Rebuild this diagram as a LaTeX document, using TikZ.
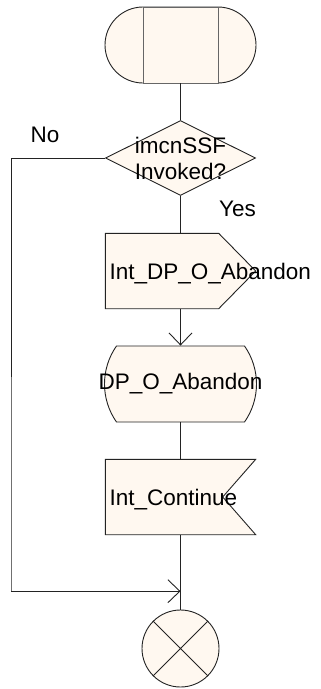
\documentclass[tikz,border=0pt]{standalone}
\usepackage{fontspec}
\setmainfont{Liberation Sans}
\usetikzlibrary{positioning, shapes.geometric, shapes.misc, arrows.meta}

\definecolor{symfill}{RGB}{255,248,240}
\definecolor{symline}{RGB}{35,35,35}

\begin{document}
\begin{tikzpicture}[
    node distance=113pt,
    on grid,
    font=\fontsize{22.5}{26}\selectfont,
    every node/.style={inner sep=0pt},
    slot/.style={minimum width=150pt, minimum height=75pt},
    sym/.style={draw=symline, fill=symfill, line width=0.9pt},
    flow/.style={draw=symline, line width=0.9pt},
    arrow/.style={flow, -{Straight Barb[length=12pt, width=23pt]}}
]
   \useasboundingbox (0,0) rectangle (321pt,-689pt);

   % Start symbol
   \node[sym, rounded rectangle, minimum width=151pt, minimum height=76pt] (start) at (180.5pt,-45pt) {};
   \node[sym, draw=black!60, minimum width=75pt, minimum height=76pt] at (start) {};

   % Decision
   \node[sym, diamond, minimum width=150pt, minimum height=75pt, below=of start,
         label={[align=center]center:imcnSSF\\Invoked?}] (invoked) {};

   % Output of internal signal
   \node[slot, below=of invoked] (dpout) {};
   \filldraw[sym] (dpout.north west) -- ([xshift=-37pt]dpout.north east) -- (dpout.east)
      -- ([xshift=-37pt]dpout.south east) -- (dpout.south west) -- cycle;
   \node[anchor=base west] at ([xshift=4pt, yshift=-8pt]dpout.west) {Int\_DP\_O\_Abandon};

   % Detection point procedure
   \node[sym, rounded rectangle, rounded rectangle arc length=70, minimum width=152pt,
         minimum height=76pt, below=of dpout, label=center:DP\_O\_Abandon] (dpproc) {};

   % Input of internal signal
   \node[slot, below=of dpproc] (dpcont) {};
   \filldraw[sym] (dpcont.north west) -- (dpcont.north east) -- ([xshift=-33pt]dpcont.east)
      -- (dpcont.south east) -- (dpcont.south west) -- cycle;
   \node[anchor=base west] at ([xshift=4pt, yshift=-8pt]dpcont.west) {Int\_Continue};

   % End symbol
   \node[sym, circle, minimum size=77pt, below=151.5pt of dpcont] (stop) {};
   \draw[flow] (stop.north west) -- (stop.south east)
               (stop.north east) -- (stop.south west);

   % Flow lines
   \draw[flow] (start.south) -- (invoked.north);
   \draw[flow] (invoked.south) -- (dpout.north);
   \draw[arrow] (dpout.south) -- (dpproc.north);
   \draw[flow] (dpproc.south) -- (dpcont.north);
   \draw[flow] (dpcont.south) -- (stop.north);

   \coordinate[below=94.2pt of dpcont] (join);
   \coordinate (nobend) at (11pt,-590.7pt);
   \draw[arrow] (invoked.west) -| (nobend) |- (join);

   % Branch labels
   \node[above left=23.5pt and 135.5pt of invoked] {No};
   \node[below right=50.5pt and 57pt of invoked] {Yes};
\end{tikzpicture}
\end{document}
